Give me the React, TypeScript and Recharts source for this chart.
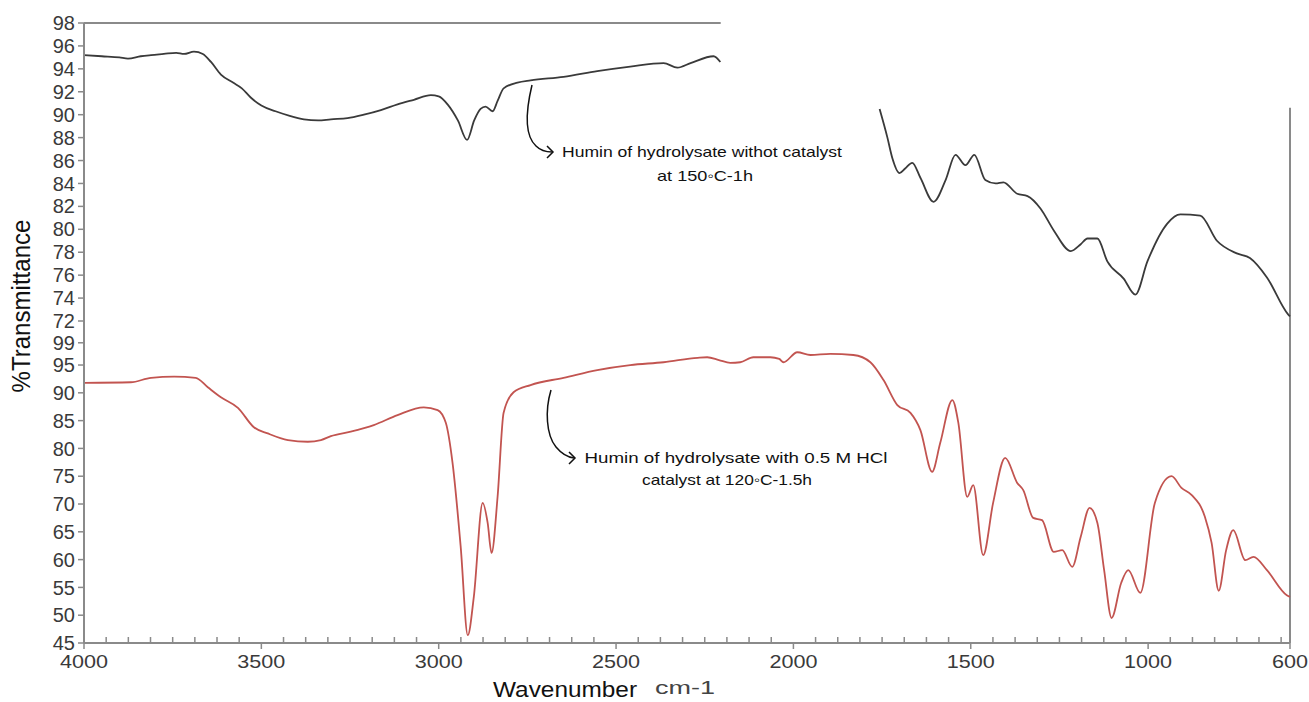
import React from 'react';
import { LineChart, Line, XAxis, YAxis, ReferenceLine } from 'recharts';

// ---- Top spectrum (black): humin without catalyst, 150°C-1h ----
const blackWn = [
  4000, 3950, 3900, 3876, 3840, 3811, 3775, 3740, 3718, 3690, 3665, 3642, 3614, 3580, 3555, 3530,
  3500, 3460, 3420, 3380, 3340, 3304, 3257, 3211, 3163, 3116, 3070, 3022, 3000, 2975, 2946, 2920,
  2900, 2882, 2868, 2848, 2834, 2817, 2778, 2741, 2648, 2553, 2460, 2366, 2327, 2290, 2225, 2206,
  2000,
  1757, 1735, 1721, 1701, 1685, 1665, 1642, 1605, 1571, 1543, 1515, 1490, 1459, 1430, 1408, 1369,
  1340, 1303, 1266, 1218, 1190, 1171, 1143, 1115, 1069, 1036, 1002, 946, 909, 853, 806, 750, 713,
  665, 606, 600,
];
const blackT: (number | null)[] = [
  95.2, 95.1, 95.0, 94.9, 95.1, 95.2, 95.3, 95.4, 95.3, 95.5, 95.3, 94.6, 93.5, 92.8, 92.3, 91.5,
  90.8, 90.3, 89.9, 89.6, 89.5, 89.6, 89.7, 90.0, 90.4, 90.9, 91.3, 91.7, 91.6, 90.9, 89.5, 87.8,
  89.5, 90.5, 90.7, 90.3, 91.2, 92.3, 92.8, 93.0, 93.3, 93.8, 94.2, 94.5, 94.1, 94.5, 95.1, 94.6,
  null,
  90.5, 88.0, 86.2, 84.9, 85.3, 85.8, 84.5, 82.4, 84.3, 86.5, 85.6, 86.5, 84.3, 84.0, 84.1, 83.1,
  82.9, 81.8, 79.9, 78.1, 78.7, 79.2, 79.2, 77.2, 75.7, 74.3, 77.2, 80.5, 81.3, 81.2, 79.0, 77.9, 77.5,
  75.8, 72.6, 72.4,
];

// ---- Bottom spectrum (red): humin with 0.5 M HCl, 120°C-1.5h ----
const redWn = [
  4000, 3868, 3811, 3746, 3685, 3651, 3614, 3566, 3521, 3482, 3425, 3369, 3332, 3304, 3248, 3183,
  3116, 3042, 3003, 2980, 2961, 2938, 2918, 2901, 2876, 2862, 2851, 2834, 2817, 2789, 2741, 2648,
  2553, 2460, 2366, 2270, 2243, 2210, 2178, 2150, 2113, 2065, 2040, 2028, 1989, 1952, 1896, 1831,
  1783, 1746, 1707, 1670, 1642, 1609, 1586, 1552, 1535, 1510, 1493, 1465, 1437, 1403, 1369, 1352,
  1324, 1299, 1266, 1242, 1214, 1190, 1165, 1143, 1124, 1103, 1076, 1056, 1022, 981, 934, 906,
  877, 840, 821, 801, 780, 760, 726, 703, 665, 609, 600,
];
const redT = [
  91.8, 91.9, 92.7, 92.9, 92.7, 91.0, 89.2, 87.3, 83.8, 82.7, 81.5, 81.2, 81.5, 82.2, 83.0, 84.2,
  86.0, 87.4, 86.9, 84.6, 77.4, 62.3, 46.4, 53.3, 70.2, 66.6, 61.2, 71.3, 86.4, 90.1, 91.4, 92.7,
  94.1, 95.0, 95.5, 96.3, 96.4, 95.9, 95.4, 95.5, 96.4, 96.4, 96.1, 95.5, 97.3, 96.8, 97.0, 96.8,
  95.5, 92.3, 87.8, 86.4, 83.3, 75.8, 81.0, 88.7, 84.6, 71.3, 73.4, 60.8, 70.2, 78.3, 73.8, 72.5,
  67.5, 67.1, 61.4, 61.7, 58.7, 64.1, 69.3, 66.6, 58.1, 49.5, 55.8, 58.1, 54.0, 70.2, 75.0, 72.9,
  71.6, 67.7, 63.0, 54.4, 61.7, 65.3, 59.9, 60.5, 58.1, 53.6, 53.3,
];

const topYTicks = [72, 74, 76, 78, 80, 82, 84, 86, 88, 90, 92, 94, 96, 98];
const bottomYTicks = [45, 50, 55, 60, 65, 70, 75, 80, 85, 90, 95, 99];
const majorXTicks = [4000, 3500, 3000, 2500, 2000, 1500, 1000, 600];
const minorStep = 62.5;

const topAnnotation = ['Humin of hydrolysate withot catalyst', 'at 150\u25E6C-1h'];
const bottomAnnotation = ['Humin of hydrolysate with 0.5 M HCl', 'catalyst at 120\u25E6C-1.5h'];

const blackData = blackWn.map((wn, i) => ({ wn, t: blackT[i] }));
const redData = redWn.map((wn, i) => ({ wn, t: redT[i] }));
const minorXTicks: number[] = [];
for (let v = 4000 - minorStep; v > 600; v -= minorStep) {
  if (!majorXTicks.includes(v)) minorXTicks.push(v);
}
const allXTicks = [...majorXTicks, ...minorXTicks].sort((a, b) => b - a);

const FONT = '"Liberation Sans", Arial, Helvetica, sans-serif';
const AXIS = '#8a8a8a';
const W = 1309;
const H = 702;
const TOP_H = 332;
const MARGIN_RIGHT = 19;
const YAXIS_W = 84;

const yTickStyle = { fill: '#3a3a3a', fontSize: 20, fontFamily: FONT };

const XTick = (props: any) => {
  const { x, y, payload } = props;
  const v = payload.value as number;
  if (majorXTicks.includes(v)) {
    const s = String(v);
    return (
      <g>
        <line x1={x} y1={y} x2={x} y2={y + 6} stroke={AXIS} strokeWidth={1.5} />
        <text
          x={x}
          y={y + 25}
          textAnchor="middle"
          fontSize={19}
          fontFamily={FONT}
          fill="#3a3a3a"
          textLength={s.length * 12}
          lengthAdjust="spacingAndGlyphs"
        >
          {s}
        </text>
      </g>
    );
  }
  return <line x1={x} y1={y} x2={x} y2={y - 6} stroke={AXIS} strokeWidth={1.5} />;
};

export default function App() {
  return (
    <div style={{ position: 'absolute', left: 0, top: 0, width: W, height: H, background: '#fff' }}>
      <div style={{ position: 'absolute', left: 0, top: 0 }}>
        <LineChart
          width={W}
          height={H}
          data={redData}
          margin={{ top: TOP_H, right: MARGIN_RIGHT, bottom: 0, left: 0 }}
        >
          <XAxis
            dataKey="wn"
            type="number"
            domain={[600, 4000]}
            reversed
            ticks={allXTicks}
            interval={0}
            tick={<XTick />}
            tickLine={false}
            tickSize={0}
            tickMargin={0}
            height={H - 643}
            axisLine={{ stroke: AXIS, strokeWidth: 2 }}
          />
          <YAxis
            type="number"
            domain={[45, 100.94]}
            ticks={bottomYTicks}
            interval={0}
            width={YAXIS_W}
            tick={yTickStyle}
            tickSize={6}
            tickMargin={3}
            tickLine={{ stroke: AXIS, strokeWidth: 1.5 }}
            axisLine={{ stroke: AXIS, strokeWidth: 2 }}
          />
          <ReferenceLine x={600} stroke={AXIS} strokeWidth={2} />
          <Line
            dataKey="t"
            type="monotone"
            stroke="#c25450"
            strokeWidth={1.8}
            dot={false}
            isAnimationActive={false}
          />
        </LineChart>
      </div>
      <div style={{ position: 'absolute', left: 0, top: 0 }}>
        <LineChart
          width={W}
          height={TOP_H}
          data={blackData}
          margin={{ top: 23, right: MARGIN_RIGHT, bottom: 0, left: 0 }}
        >
          <XAxis dataKey="wn" type="number" domain={[600, 4000]} reversed hide />
          <YAxis
            type="number"
            domain={[71.04, 98]}
            ticks={topYTicks}
            interval={0}
            width={YAXIS_W}
            tick={yTickStyle}
            tickSize={6}
            tickMargin={3}
            tickLine={{ stroke: AXIS, strokeWidth: 1.5 }}
            axisLine={{ stroke: AXIS, strokeWidth: 2 }}
          />
          <ReferenceLine segment={[{ x: 4000, y: 98 }, { x: 2205, y: 98 }]} stroke={AXIS} strokeWidth={2} />
          <ReferenceLine segment={[{ x: 600, y: 90.6 }, { x: 600, y: 71.04 }]} stroke={AXIS} strokeWidth={2} />
          <Line
            dataKey="t"
            type="monotone"
            stroke="#3a3a3a"
            strokeWidth={1.8}
            dot={false}
            connectNulls={false}
            isAnimationActive={false}
          />
        </LineChart>
      </div>
      <svg
        width={W}
        height={H}
        style={{ position: 'absolute', left: 0, top: 0, pointerEvents: 'none' }}
      >
        <text
          transform="translate(30,306) rotate(-90)"
          textAnchor="middle"
          fontSize={25}
          fontFamily={FONT}
          fill="#111"
          textLength={173}
          lengthAdjust="spacingAndGlyphs"
        >
          %Transmittance
        </text>
        <text x={493} y={697} fontSize={22} fontFamily={FONT} fill="#111" textLength={144} lengthAdjust="spacingAndGlyphs">
          Wavenumber
        </text>
        <text x={655} y={694} fontSize={18} fontFamily={FONT} fill="#444" textLength={60} lengthAdjust="spacingAndGlyphs">
          cm-1
        </text>

        <path d="M532 85 C526 110, 524 135, 536 146 C540 150, 544 152, 552 152" fill="none" stroke="#111" strokeWidth={1.5} />
        <path d="M547 146 L553 152 L547 158" fill="none" stroke="#111" strokeWidth={1.5} />
        <text x={702} y={157} textAnchor="middle" fontSize={15} fontFamily={FONT} fill="#111" textLength={280} lengthAdjust="spacingAndGlyphs">
          {topAnnotation[0]}
        </text>
        <text x={705} y={181} textAnchor="middle" fontSize={15} fontFamily={FONT} fill="#111" textLength={96} lengthAdjust="spacingAndGlyphs">
          {topAnnotation[1]}
        </text>

        <path d="M551 390 C545 410, 546 435, 556 447 C561 453, 566 457, 574 458" fill="none" stroke="#111" strokeWidth={1.5} />
        <path d="M569 452 L575 458 L569 464" fill="none" stroke="#111" strokeWidth={1.5} />
        <text x={736} y={463} textAnchor="middle" fontSize={15} fontFamily={FONT} fill="#111" textLength={303} lengthAdjust="spacingAndGlyphs">
          {bottomAnnotation[0]}
        </text>
        <text x={727} y={485} textAnchor="middle" fontSize={15} fontFamily={FONT} fill="#111" textLength={170} lengthAdjust="spacingAndGlyphs">
          {bottomAnnotation[1]}
        </text>
      </svg>
    </div>
  );
}
